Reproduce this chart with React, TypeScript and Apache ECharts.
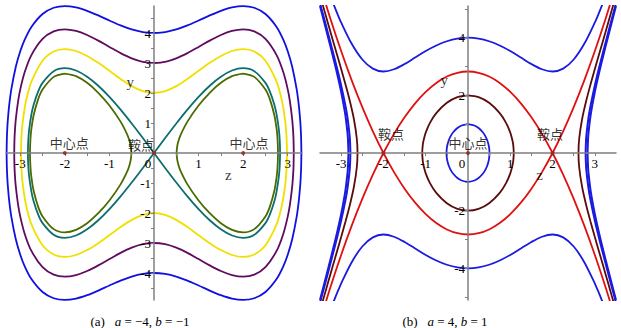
import React, { useEffect, useRef } from "react";
import * as echarts from "echarts";

// ---------- tick / label values ----------
const LEFT_X_LABELS = [-3, -2, -1, 0, 1, 2, 3];
const LEFT_X_TICKS = [-3, -2.5, -2, -1.5, -1, -0.5, 0, 0.5, 1, 1.5, 2, 2.5, 3];
const LEFT_Y_LABELS = [-4, -3, -2, -1, 1, 2, 3, 4];
const LEFT_Y_TICKS = [-4.5, -4, -3.5, -3, -2.5, -2, -1.5, -1, -0.5, 0.5, 1, 1.5, 2, 2.5, 3, 3.5, 4, 4.5];
const RIGHT_X_LABELS = [-3, -2, -1, 0, 1, 2, 3];
const RIGHT_X_TICKS = [-3, -2.5, -2, -1.5, -1, -0.5, 0, 0.5, 1, 1.5, 2, 2.5, 3];
const RIGHT_Y_LABELS = [-4, -2, 2, 4];
const RIGHT_Y_TICKS = [-5, -4, -3, -2, -1, 1, 2, 3, 4, 5];

// ---------- (a) a=-4, b=-1 : first-quadrant points ----------
const leftBlueQ = [[0, 4], [0.25, 4.031], [0.5, 4.119], [0.75, 4.253], [1, 4.416], [1.25, 4.586], [1.5, 4.74], [1.75, 4.854], [2, 4.899], [2.25, 4.841], [2.5, 4.633], [2.75, 4.202], [2.9, 3.778], [3, 3.391], [3.1, 2.875], [3.2, 2.129], [3.25, 1.57], [3.28, 1.078], [3.29, 0.846], [3.3, 0.514], [3.306, 0]];
const leftPurpleQ = [[0, 3], [0.25, 3.041], [0.5, 3.157], [0.75, 3.33], [1, 3.536], [1.25, 3.746], [1.5, 3.933], [1.75, 4.069], [2, 4.123], [2.25, 4.054], [2.5, 3.804], [2.75, 3.264], [2.9, 2.697], [3, 2.121], [3.05, 1.715], [3.1, 1.124], [3.12, 0.747], [3.13, 0.445], [3.135, 0]];
const leftYellowQ = [[0, 2], [0.25, 2.061], [0.5, 2.229], [0.75, 2.468], [1, 2.739], [1.25, 3.005], [1.5, 3.236], [1.75, 3.4], [2, 3.464], [2.25, 3.382], [2.5, 3.077], [2.75, 2.378], [2.85, 1.871], [2.9, 1.509], [2.95, 0.972], [2.97, 0.616], [2.983, 0]];
const leftTealQ = [[0, 0], [0.25, 0.498], [0.5, 0.984], [0.75, 1.446], [1, 1.871], [1.25, 2.243], [1.5, 2.543], [1.75, 2.75], [2, 2.828], [2.25, 2.727], [2.5, 2.339], [2.6, 2.047], [2.7, 1.609], [2.75, 1.286], [2.8, 0.792], [2.82, 0.435], [2.828, 0]];
const leftOliveUpper = [[0.508, 0], [0.52, 0.212], [0.55, 0.405], [0.6, 0.613], [0.75, 1.045], [1, 1.581], [1.25, 2.007], [1.5, 2.339], [1.75, 2.561], [2, 2.646], [2.25, 2.537], [2.5, 2.114], [2.6, 1.786], [2.7, 1.26], [2.75, 0.809], [2.77, 0.505], [2.782, 0]];
const leftPoints = [[-2, 0], [0, 0], [2, 0]];

// ---------- (b) a=4, b=1 ----------
const rightBlueInnerQ = [[0, 1], [0.15, 0.954], [0.25, 0.867], [0.35, 0.719], [0.4, 0.611], [0.45, 0.459], [0.48, 0.324], [0.5, 0.177], [0.508, 0]];
const rightMaroonInnerQ = [[0, 2], [0.25, 1.937], [0.5, 1.741], [0.75, 1.381], [0.9, 1.043], [1, 0.707], [1.05, 0.445], [1.07, 0.275], [1.082, 0]];
const rightMaroonOuterQ = [[2.613, 0], [2.63, 0.504], [2.7, 1.188], [2.8, 1.837], [2.9, 2.392], [3, 2.915], [3.1, 3.426], [3.2, 3.933], [3.3, 4.443], [3.4, 4.957], [3.5, 5.48]];
const rightBlueOuterAQ = [[2.782, 0], [2.79, 0.4], [2.8, 0.611], [2.85, 1.224], [2.9, 1.65], [3, 2.345], [3.1, 2.956], [3.2, 3.531], [3.3, 4.091], [3.4, 4.645], [3.5, 5.199]];
const rightBlueOuterBQ = [[2.828, 0], [2.84, 0.514], [2.85, 0.706], [2.9, 1.313], [3, 2.121], [3.1, 2.781], [3.2, 3.386], [3.3, 3.967], [3.4, 4.536], [3.5, 5.102]];
const rightRedQ = [[0, 2.828], [0.25, 2.784], [0.5, 2.652], [0.75, 2.431], [1, 2.121], [1.25, 1.724], [1.5, 1.237], [1.75, 0.663], [2, 0], [2.25, -0.751], [2.5, -1.591], [2.75, -2.519], [3, -3.536], [3.25, -4.64], [3.5, -5.834]];
const rightBlueTopQ = [[0, 4], [0.25, 3.969], [0.5, 3.877], [0.75, 3.729], [1, 3.536], [1.25, 3.312], [1.5, 3.087], [1.75, 2.905], [2, 2.828], [2.25, 2.927], [2.5, 3.245], [2.75, 3.788], [3, 4.528], [3.1, 4.872], [3.2, 5.241], [3.3, 5.633]];
const rightPoints = [[-2, 0], [0, 0], [2, 0]];

// annotations [z, y, text]
const leftNotes = [[-1.9, 0.35, "中心点"], [2.13, 0.35, "中心点"], [-0.29, 0.3, "鞍点"]];
const rightNotes = [[0, 0.35, "中心点"], [-1.82, 0.67, "鞍点"], [1.94, 0.67, "鞍点"]];
const leftAxisNames = [[-0.53, 2.38, "y"], [1.67, -0.73, "z"]];
const rightAxisNames = [[-0.56, 2.52, "y"], [1.69, -0.77, "z"]];

type P = number[];

// symmetric helpers built from the read quadrant data
const loopAroundOrigin = (q: P[]): P[] => [
  ...q.map(([z, y]) => [z, y]),
  ...q.slice().reverse().slice(1).map(([z, y]) => [z, -y]),
  ...q.slice(1).map(([z, y]) => [-z, -y]),
  ...q.slice().reverse().slice(1).map(([z, y]) => [-z, y]),
];
const mirrorZ = (pts: P[]): P[] => pts.map(([z, y]) => [-z, y]);
const lobe = (q: P[]): P[] => [...q, ...q.slice().reverse().slice(1).map(([z, y]) => [z, -y])];
const loopFromUpper = (u: P[]): P[] => {
  const full = [...u, ...u.slice().reverse().slice(1).map(([z, y]) => [z, -y])];
  full.pop();
  let k = 0;
  full.forEach((p, i) => { if (p[1] > full[k][1]) k = i; });
  const rot = [...full.slice(k), ...full.slice(0, k)];
  rot.push(rot[0]);
  return rot;
};
const evenFull = (q: P[]): P[] => [...q.slice().reverse().slice(0, -1).map(([z, y]) => [-z, y]), ...q];
const branch = (q: P[]): P[] => [...q.slice().reverse().map(([z, y]) => [z, -y]), ...q.slice(1)];
const negY = (pts: P[]): P[] => pts.map(([z, y]) => [z, -y]);

const AXIS_GRAY = "#7f7f7f";
const SERIF = "'Liberation Serif', 'DejaVu Serif', serif";
const CJK = "'Noto Sans CJK SC', sans-serif";

// grid layout (pixels)
const GRID_TOP = 6;
const GRID_H = 294;
const GRID_W = 296;
const LEFT_GRID_X = 6;
const RIGHT_GRID_X = 320;

function line(data: P[], color: string, grid: number, width = 1.8) {
  return {
    type: "line",
    xAxisIndex: grid,
    yAxisIndex: grid,
    data,
    showSymbol: false,
    symbol: "none",
    smooth: 0.3,
    clip: true,
    silent: true,
    lineStyle: { color, width },
    z: 3,
  };
}

function notes(data: any[], grid: number, font: string, size: number) {
  return {
    type: "scatter",
    xAxisIndex: grid,
    yAxisIndex: grid,
    data: data.map((d) => ({ value: [d[0], d[1]], name: d[2] })),
    symbolSize: 1,
    itemStyle: { color: "rgba(0,0,0,0)" },
    silent: true,
    z: 5,
    label: {
      show: true,
      position: "inside",
      formatter: (p: any) => p.name,
      color: "#000",
      fontFamily: font,
      fontSize: size,
    },
  };
}

function dots(data: P[], grid: number) {
  return {
    type: "scatter",
    xAxisIndex: grid,
    yAxisIndex: grid,
    data,
    symbolSize: 4,
    itemStyle: { color: "#9a1a1a" },
    silent: true,
    z: 6,
  };
}

// offset moves the axis from the grid edge to the zero line of the other axis
function xAxis(grid: number, min: number, max: number, labels: number[], ticks: number[], yMin: number, yMax: number) {
  const zeroFromBottom = (-yMin / (yMax - yMin)) * GRID_H;
  return {
    type: "value",
    gridIndex: grid,
    position: "bottom",
    offset: -zeroFromBottom,
    min,
    max,
    axisLine: { show: true, onZero: false, lineStyle: { color: AXIS_GRAY, width: 1.5 } },
    axisTick: { show: true, length: 3, customValues: ticks, lineStyle: { color: AXIS_GRAY, width: 1 } },
    axisLabel: {
      show: true,
      customValues: labels,
      margin: 4,
      color: "#000",
      fontFamily: SERIF,
      fontSize: 13,
      formatter: (v: number) => (v === 0 ? "{o|0}" : String(v)),
      rich: { o: { padding: [0, 12, 0, 0], fontFamily: SERIF, fontSize: 13, color: "#000" } },
    },
    splitLine: { show: false },
    z: 4,
  };
}

function yAxis(grid: number, min: number, max: number, labels: number[], ticks: number[], xMin: number, xMax: number) {
  const zeroFromLeft = (-xMin / (xMax - xMin)) * GRID_W;
  return {
    type: "value",
    gridIndex: grid,
    position: "left",
    offset: -zeroFromLeft,
    min,
    max,
    axisLine: { show: true, onZero: false, lineStyle: { color: AXIS_GRAY, width: 1.5 } },
    axisTick: { show: true, length: 3, customValues: ticks, lineStyle: { color: AXIS_GRAY, width: 1 } },
    axisLabel: {
      show: true,
      customValues: labels,
      margin: 3,
      color: "#000",
      fontFamily: SERIF,
      fontSize: 13,
      formatter: (v: number) => String(v),
    },
    splitLine: { show: false },
    z: 4,
  };
}

export default function App() {
  const ref = useRef<HTMLDivElement>(null);
  useEffect(() => {
    if (!ref.current) return;
    const chart = echarts.init(ref.current, null, { renderer: "svg" });
    const tealRight = lobe(leftTealQ);
    const oliveRight = loopFromUpper(leftOliveUpper);
    const redUp = evenFull(rightRedQ);
    const blueTop = evenFull(rightBlueTopQ);
    const maroonOuter = branch(rightMaroonOuterQ);
    const blueOuterA = branch(rightBlueOuterAQ);
    const blueOuterB = branch(rightBlueOuterBQ);
    const option: any = {
      animation: false,
      backgroundColor: "#ffffff",
      grid: [
        { left: LEFT_GRID_X, top: GRID_TOP, width: GRID_W, height: GRID_H },
        { left: RIGHT_GRID_X, top: GRID_TOP, width: GRID_W, height: GRID_H },
      ],
      xAxis: [
        xAxis(0, -3.32, 3.32, LEFT_X_LABELS, LEFT_X_TICKS, -4.9, 4.9),
        xAxis(1, -3.5, 3.5, RIGHT_X_LABELS, RIGHT_X_TICKS, -5.1, 5.1),
      ],
      yAxis: [
        yAxis(0, -4.9, 4.9, LEFT_Y_LABELS, LEFT_Y_TICKS, -3.32, 3.32),
        yAxis(1, -5.1, 5.1, RIGHT_Y_LABELS, RIGHT_Y_TICKS, -3.5, 3.5),
      ],
      series: [
        // left panel
        line(loopAroundOrigin(leftBlueQ), "#1010e0", 0),
        line(loopAroundOrigin(leftPurpleQ), "#600b60", 0),
        line(loopAroundOrigin(leftYellowQ), "#f0e000", 0),
        line(tealRight, "#0c6e6e", 0),
        line(mirrorZ(tealRight), "#0c6e6e", 0),
        line(oliveRight, "#4b6b00", 0),
        line(mirrorZ(oliveRight), "#4b6b00", 0),
        dots(leftPoints, 0),
        notes(leftNotes, 0, CJK, 13),
        notes(leftAxisNames, 0, SERIF, 15),
        // right panel
        line(loopAroundOrigin(rightBlueInnerQ), "#1a1ae0", 1),
        line(loopAroundOrigin(rightMaroonInnerQ), "#5a0c0c", 1),
        line(maroonOuter, "#5a0c0c", 1),
        line(mirrorZ(maroonOuter), "#5a0c0c", 1),
        line(blueOuterA, "#1a1ae0", 1, 2),
        line(mirrorZ(blueOuterA), "#1a1ae0", 1, 2),
        line(blueOuterB, "#1a1ae0", 1, 2),
        line(mirrorZ(blueOuterB), "#1a1ae0", 1, 2),
        line(redUp, "#e01010", 1),
        line(negY(redUp), "#e01010", 1),
        line(blueTop, "#1a1ae0", 1),
        line(negY(blueTop), "#1a1ae0", 1),
        dots(rightPoints, 1),
        notes(rightNotes, 1, CJK, 13),
        notes(rightAxisNames, 1, SERIF, 15),
      ],
      graphic: [
        {
          type: "text",
          x: 140,
          y: 321,
          style: {
            text: "(a)   {i|a} = −4, {i|b} = −1",
            rich: { i: { fontStyle: "italic", fontFamily: SERIF, fontSize: 13 } },
            fontFamily: SERIF,
            fontSize: 13,
            fill: "#000",
            textAlign: "center",
            textVerticalAlign: "middle",
          },
        },
        {
          type: "text",
          x: 445,
          y: 321,
          style: {
            text: "(b)   {i|a} = 4, {i|b} = 1",
            rich: { i: { fontStyle: "italic", fontFamily: SERIF, fontSize: 13 } },
            fontFamily: SERIF,
            fontSize: 13,
            fill: "#000",
            textAlign: "center",
            textVerticalAlign: "middle",
          },
        },
      ],
    };
    chart.setOption(option);
    return () => chart.dispose();
  }, []);
  return (
    <div
      ref={ref}
      style={{ position: "absolute", left: 0, top: 0, width: 621, height: 328, background: "#fff" }}
    />
  );
}
